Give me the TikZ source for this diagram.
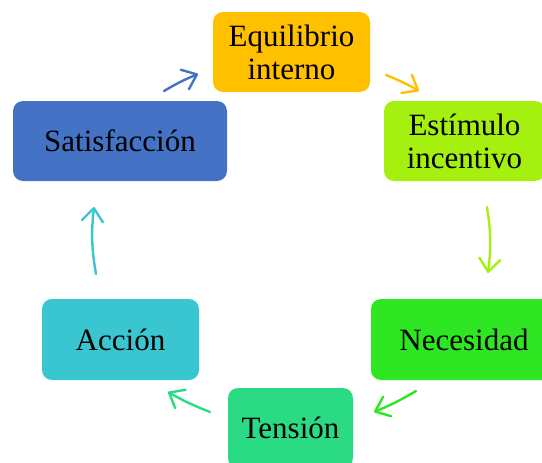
\documentclass[tikz,border=0pt]{standalone}
\usepackage{fontspec}
\setmainfont{Liberation Serif}
\usetikzlibrary{arrows.meta}
\definecolor{cEq}{HTML}{FFC000}
\definecolor{cEs}{HTML}{A5F00E}
\definecolor{cNe}{HTML}{2EE621}
\definecolor{cTe}{HTML}{2ADB84}
\definecolor{cAc}{HTML}{3AC6D0}
\definecolor{cSa}{HTML}{4472C4}
\begin{document}
\begin{tikzpicture}[x=1pt,y=-1pt,
  box/.style={rounded corners=10pt, inner sep=0pt, align=center,
    font=\fontsize{31}{33}\selectfont, text=black},
  cyc/.style={line width=2.4pt, line cap=round,
    -{Straight Barb[length=13pt,width=21pt,round]}}]
\useasboundingbox (0,0) rectangle (542,463);
\node[box, fill=cEq, minimum width=157pt, minimum height=80pt] (eq) at (291.5,52) {Equilibrio\\interno};
\node[box, fill=cEs, minimum width=161pt, minimum height=80pt] (es) at (464.5,141) {Estímulo\\incentivo};
\node[box, fill=cSa, minimum width=214pt, minimum height=80pt] (sa) at (120,141) {Satisfacción};
\node[box, fill=cAc, minimum width=157pt, minimum height=81pt] (ac) at (120.5,339.5) {Acción};
\node[box, fill=cNe, minimum width=186pt, minimum height=81pt] (ne) at (464,339.5) {Necesidad};
\node[box, fill=cTe, minimum width=125pt, minimum height=80pt] (te) at (290.5,428) {Tensión};
\coordinate (a1) at (164,91);
\coordinate (b1) at (198,74);
\coordinate (a2) at (386,75);
\coordinate (b2) at (419,91);
\coordinate (a3) at (487,207);
\coordinate (b3) at (488,273);
\coordinate (a4) at (416,391);
\coordinate (b4) at (374,412);
\coordinate (a5) at (210,412);
\coordinate (b5) at (168,392);
\coordinate (a6) at (96,274);
\coordinate (b6) at (94,207);
\draw[cyc, cSa] (a1) to[bend left=4] (b1);
\draw[cyc, cEq] (a2) to[bend left=4] (b2);
\draw[cyc, cEs] (a3) to[bend left=8] (b3);
\draw[cyc, cNe] (a4) to[bend left=4] (b4);
\draw[cyc, cTe] (a5) to[bend left=4] (b5);
\draw[cyc, cAc] (a6) to[bend left=8] (b6);
\end{tikzpicture}
\end{document}
